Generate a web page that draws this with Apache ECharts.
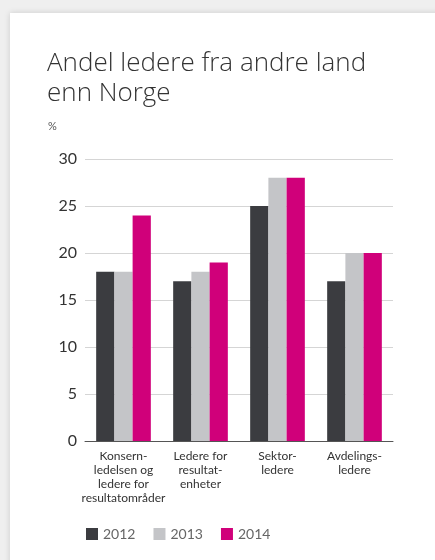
<!DOCTYPE html>
<html>
<head>
<meta charset="utf-8">
<script src="https://cdn.jsdelivr.net/npm/echarts@6/dist/echarts.min.js"></script>
<style>
  html, body { margin: 0; padding: 0; background: #efefef; }
  .card {
    position: absolute; left: 10px; top: 13px; width: 440px; height: 560px;
    background: #fff; box-shadow: 0 0 6px rgba(0,0,0,0.15);
  }
  #chart { position: absolute; left: 0; top: 0; width: 435px; height: 560px; }
</style>
</head>
<body>
<div class="card"></div>
<div id="chart"></div>
<script>
const categories = [
  'Konsern-\nledelsen og\nledere for\nresultatområder',
  'Ledere for\nresultat-\nenheter',
  'Sektor-\nledere',
  'Avdelings-\nledere'
]
const years = ['2012', '2013', '2014']
const values2012 = [18, 17, 25, 17]
const values2013 = [18, 18, 28, 20]
const values2014 = [24, 19, 28, 20]
const yTicks = [0, 5, 10, 15, 20, 25, 30]

const colors = ['#3b3c40', '#c4c5c8', '#d0007a']

const chart = echarts.init(document.getElementById('chart'))

chart.setOption({
  animation: false,
  title: {
    text: 'Andel ledere fra andre land\nenn Norge',
    left: 42,
    top: 44,
    textStyle: {
      fontFamily: 'Open Sans',
      fontWeight: 300,
      fontSize: 26,
      lineHeight: 30,
      color: '#333'
    }
  },
  graphic: [{
    type: 'text',
    left: 48,
    top: 121,
    style: { text: '%', fontFamily: 'Lato', fontSize: 11, fill: '#555' }
  }],
  legend: {
    data: years,
    left: 81,
    top: 522,
    itemWidth: 12,
    itemHeight: 12,
    itemGap: 18,
    icon: 'rect',
    textStyle: { fontFamily: 'Lato', fontSize: 14, color: '#666' }
  },
  grid: { left: 85, right: 42, top: 159, bottom: 119 },
  xAxis: {
    type: 'category',
    data: categories,
    axisTick: { show: false },
    axisLine: { lineStyle: { color: '#555', width: 1 } },
    axisLabel: {
      interval: 0,
      margin: 8,
      fontFamily: 'Lato',
      fontSize: 12,
      lineHeight: 14,
      color: '#333'
    }
  },
  yAxis: {
    type: 'value',
    min: yTicks[0],
    max: yTicks[yTicks.length - 1],
    interval: 5,
    axisLabel: { margin: 8, fontFamily: 'Lato', fontSize: 16, color: '#333' },
    splitLine: { lineStyle: { color: '#d5d5d5' } }
  },
  series: [values2012, values2013, values2014].map((vals, idx) => ({
    name: years[idx],
    type: 'bar',
    data: vals,
    barGap: '0%',
    barCategoryGap: '29%',
    itemStyle: { color: colors[idx] }
  }))
})
</script>
</body>
</html>
